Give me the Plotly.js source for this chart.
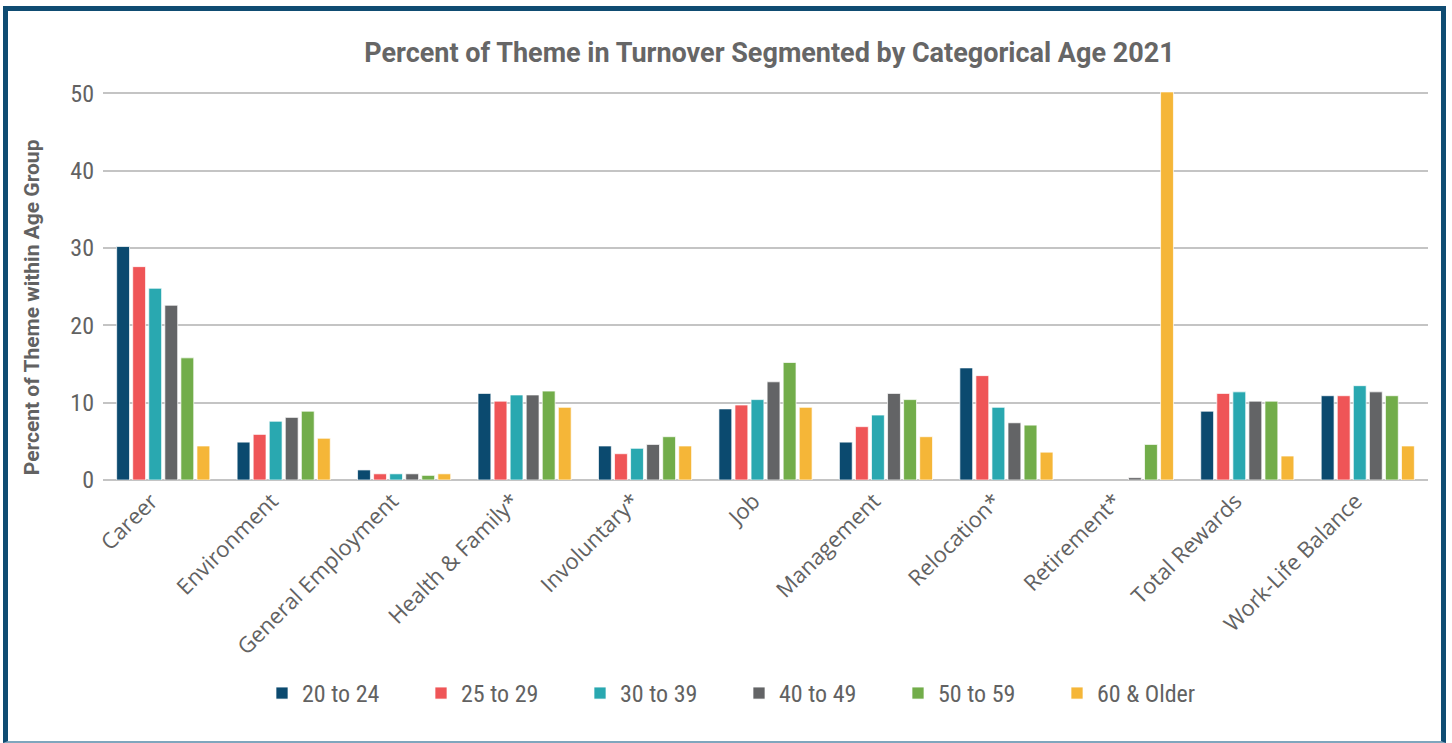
<!DOCTYPE html>
<html>
<head>
<meta charset="utf-8">
<script src="https://cdn.plot.ly/plotly-3.0.1.min.js"></script>
<style>
  html, body { margin: 0; padding: 0; background: #ffffff; }
  #wrap { position: relative; width: 1452px; height: 743px; overflow: hidden; }
  #chart { position: absolute; left: 0; top: 0; width: 1452px; height: 743px; }
  #frame { position: absolute; left: 3px; top: 6px; width: 1443px; height: 737px;
           border-left: 5px solid #0f4c72; border-top: 5px solid #0f4c72; border-right: 5px solid #0f4c72;
           border-bottom: 2px solid #7fa6bd; pointer-events: none; box-sizing: border-box; }
</style>
</head>
<body>
<div id="wrap">
  <div id="chart"></div>
  <div id="frame"></div>
</div>
<script>
const categories = ["Career", "Environment", "General Employment", "Health & Family*", "Involuntary*",
  "Job", "Management", "Relocation*", "Retirement*", "Total Rewards", "Work-Life Balance"];
const seriesNames = ["20 to 24", "25 to 29", "30 to 39", "40 to 49", "50 to 59", "60 & Older"];
const age20to24 = [30.2, 4.9, 1.3, 11.2, 4.4, 9.2, 4.9, 14.5, null, 8.9, 10.9];
const age25to29 = [27.6, 5.9, 0.8, 10.2, 3.4, 9.7, 6.9, 13.5, null, 11.2, 10.9];
const age30to39 = [24.8, 7.6, 0.8, 11.0, 4.1, 10.4, 8.4, 9.4, null, 11.4, 12.2];
const age40to49 = [22.6, 8.1, 0.8, 11.0, 4.6, 12.7, 11.2, 7.4, 0.3, 10.2, 11.4];
const age50to59 = [15.8, 8.9, 0.6, 11.5, 5.6, 15.2, 10.4, 7.1, 4.6, 10.2, 10.9];
const age60plus = [4.4, 5.4, 0.8, 9.4, 4.4, 9.4, 5.6, 3.6, 50.2, 3.1, 4.4];
const colors = ["#0b4a6f", "#ef5557", "#29a8b0", "#636466", "#72ad4a", "#f5b638"];
const allSeries = [age20to24, age25to29, age30to39, age40to49, age50to59, age60plus];

const condensed = "'Roboto Condensed', 'Liberation Sans Narrow', 'Arial Narrow', Roboto, sans-serif";
const textGray = "#626262";

const traces = allSeries.map((vals, i) => ({
  type: "bar",
  name: seriesNames[i],
  x: categories,
  y: vals,
  marker: { color: colors[i], line: { color: "rgba(255,255,255,0.7)", width: 1 } },
  hoverinfo: "x+y+name"
}));

const layout = {
  width: 1452, height: 743,
  paper_bgcolor: "#ffffff", plot_bgcolor: "#ffffff",
  margin: { l: 103, r: 24, t: 77.5, b: 263 },
  barmode: "group", bargap: 0.2, bargroupgap: 0.2,
  title: { text: "<b>Percent of Theme in Turnover Segmented by Categorical Age 2021</b>",
    x: 0.503, xref: "paper", xanchor: "center", y: 0.929, yanchor: "middle", yref: "container",
    font: { family: "Roboto, sans-serif", size: 27, color: "#666666" } },
  xaxis: {
    type: "category", tickangle: -45, showgrid: false, zeroline: false, showline: false,
    ticks: "", ticklabelshift: -12, ticklabelstandoff: 3,
    tickfont: { family: "'Open Sans', 'Noto Sans', sans-serif", size: 22, color: textGray }
  },
  yaxis: {
    range: [0, 52], tickvals: [0, 10, 20, 30, 40, 50], ticktext: ["0", "10", "20", "30", "40", "50"],
    showgrid: true, gridcolor: "#c4c4c4", gridwidth: 1.5,
    zeroline: true, zerolinecolor: "#c4c4c4", zerolinewidth: 1.5,
    showline: false, ticks: "", ticklen: 0, ticklabelstandoff: 8,
    tickfont: { family: condensed, size: 24, color: textGray }
  },
  annotations: [{
    text: "<b>Percent of Theme within Age Group</b>", textangle: -90,
    xref: "paper", yref: "paper", x: -0.0535, y: 0.43, xanchor: "center", yanchor: "middle",
    showarrow: false, font: { family: "Roboto, sans-serif", size: 21, color: textGray }
  }],
  showlegend: true,
  legend: {
    orientation: "h", x: 0.12, xanchor: "left", y: -0.531, yanchor: "middle",
    font: { family: condensed, size: 24, color: textGray },
    entrywidth: 114, entrywidthmode: "pixels", itemwidth: 30, traceorder: "normal"
  }
};

Plotly.newPlot("chart", traces, layout, { displayModeBar: false, responsive: false });
</script>
</body>
</html>
